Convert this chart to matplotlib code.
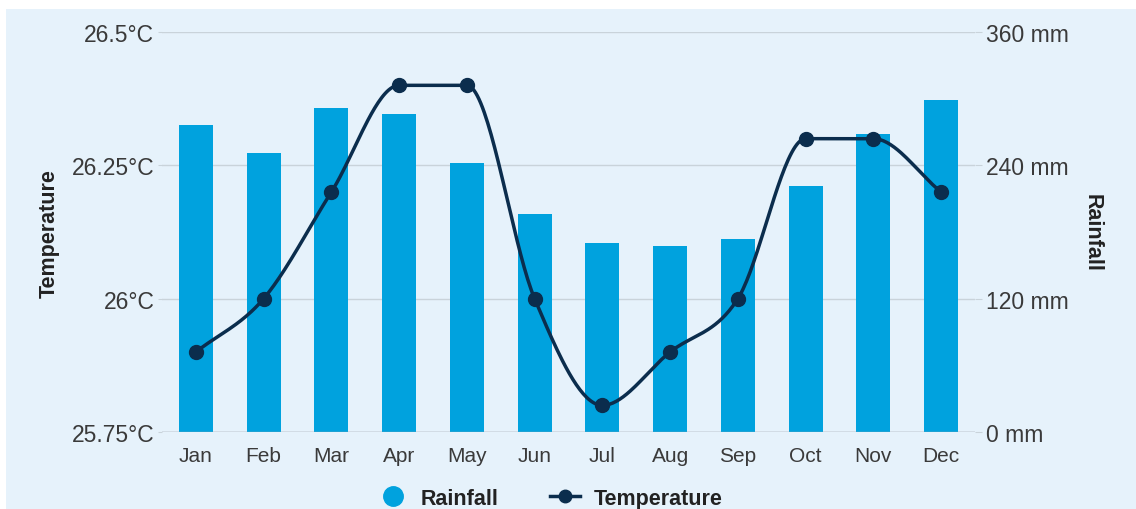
import numpy as np
import matplotlib
matplotlib.use("Agg")
import matplotlib.pyplot as plt
from matplotlib.patches import Rectangle
from matplotlib.lines import Line2D

months = ["Jan", "Feb", "Mar", "Apr", "May", "Jun", "Jul", "Aug", "Sep", "Oct", "Nov", "Dec"]
rainfall = [276, 251, 292, 286, 242, 196, 170, 167, 174, 221, 268, 299]
temperature = [25.9, 26.0, 26.2, 26.4, 26.4, 26.0, 25.8, 25.9, 26.0, 26.3, 26.3, 26.2]
temp_ticks = [25.75, 26.0, 26.25, 26.5]
temp_tick_labels = ["25.75°C", "26°C", "26.25°C", "26.5°C"]
rain_ticks = [0, 120, 240, 360]
rain_tick_labels = ["0 mm", "120 mm", "240 mm", "360 mm"]

BAR = "#00a2de"
LINE = "#0b2d4d"
BG = "#e6f2fb"
GRID = "#c9d3da"
TXT = "#3a3a3a"
FONT = ["Liberation Sans", "DejaVu Sans"]
plt.rcParams["font.family"] = FONT

W, H = 1136, 510
fig = plt.figure(figsize=(W / 100, H / 100), dpi=100)
fig.patch.set_facecolor("white")
fig.patches.append(Rectangle((6 / W, 0), 1 - 6 / W, 1 - 10 / H, transform=fig.transFigure,
                             facecolor=BG, edgecolor="none", zorder=-5))

ax_l, ax_r, ax_b, ax_t = 162, 975, 433, 33
ax = fig.add_axes([ax_l / W, (H - ax_b) / H, (ax_r - ax_l) / W, (ax_b - ax_t) / H])
ax.set_facecolor("none")
ax2 = ax.twinx()
ax2.set_facecolor("none")

x = np.arange(len(months))

# Rainfall bars on right axis
ax2.bar(x, rainfall, width=0.5, color=BAR, zorder=2)
ax2.set_ylim(0, 360)
ax2.set_yticks(rain_ticks)
ax2.set_yticklabels(rain_tick_labels)

# monotone cubic (Fritsch-Carlson) rendering of temperature line
def monotone_curve(xs, ys, n=40):
    xs = np.asarray(xs, float); ys = np.asarray(ys, float)
    h = np.diff(xs); d = np.diff(ys) / h
    m = np.zeros_like(ys)
    m[0] = d[0]; m[-1] = d[-1]
    for i in range(1, len(ys) - 1):
        if d[i - 1] * d[i] <= 0:
            m[i] = 0
        else:
            m[i] = (d[i - 1] + d[i]) / 2
    for i in range(len(d)):
        if d[i] == 0:
            m[i] = 0; m[i + 1] = 0
        else:
            a = m[i] / d[i]; b = m[i + 1] / d[i]
            s = a * a + b * b
            if s > 9:
                t = 3 / np.sqrt(s)
                m[i] = t * a * d[i]; m[i + 1] = t * b * d[i]
    X, Y = [], []
    for i in range(len(d)):
        t = np.linspace(0, 1, n)
        h00 = 2 * t**3 - 3 * t**2 + 1
        h10 = t**3 - 2 * t**2 + t
        h01 = -2 * t**3 + 3 * t**2
        h11 = t**3 - t**2
        X.append(xs[i] + t * h[i])
        Y.append(h00 * ys[i] + h10 * h[i] * m[i] + h01 * ys[i + 1] + h11 * h[i] * m[i + 1])
    return np.concatenate(X), np.concatenate(Y)

cx, cy = monotone_curve(x, temperature)
ax.plot(cx, cy, color=LINE, lw=2.5, zorder=5, solid_capstyle="round")
ax.plot(x, temperature, "o", color=LINE, ms=10, zorder=6)
ax.set_zorder(ax2.get_zorder() + 1)
ax.set_ylim(25.75, 26.5)
ax.set_yticks(temp_ticks)
ax.set_yticklabels(temp_tick_labels)
ax.set_xlim(-0.5, len(months) - 0.5)
ax.set_xticks(x)
ax.set_xticklabels(months)

for a in (ax, ax2):
    for s in a.spines.values():
        s.set_visible(False)
ax2.yaxis.grid(True, color=GRID, lw=1.0, zorder=0)
ax2.set_axisbelow(True)

ax.tick_params(axis="y", length=3, color=GRID, labelsize=16.5, labelcolor=TXT, pad=2.5)
ax2.tick_params(axis="y", length=5, color=GRID, labelsize=16.5, labelcolor=TXT, pad=3)
ax.tick_params(axis="x", length=0, labelsize=15, labelcolor=TXT, pad=10)
# bottom line
ax2.axhline(0, color="#9aa3a9", lw=1.0, zorder=3)

fig.text(49 / W, 1 - 234 / H, "Temperature", rotation=90, ha="center", va="center",
         fontsize=15.5, fontweight="bold", color="#222222")
fig.text(1092 / W, 1 - 233 / H, "Rainfall", rotation=-90, ha="center", va="center",
         fontsize=15.5, fontweight="bold", color="#222222")

handles = [
    Line2D([], [], marker="o", ls="none", color=BAR, ms=14),
    Line2D([], [], marker="o", color=LINE, lw=2.5, ms=9),
]
leg = fig.legend(handles, ["Rainfall", "Temperature"], loc="center", ncol=2,
                 bbox_to_anchor=(550 / W, 10.5 / H), frameon=False,
                 prop={"family": FONT, "weight": "bold", "size": 15.5},
                 handlelength=1.4, columnspacing=2.4, handletextpad=0.6,
                 borderpad=0, borderaxespad=0)
for t in leg.get_texts():
    t.set_color("#222222")

fig.savefig("out.png", dpi=100, facecolor=fig.get_facecolor())
